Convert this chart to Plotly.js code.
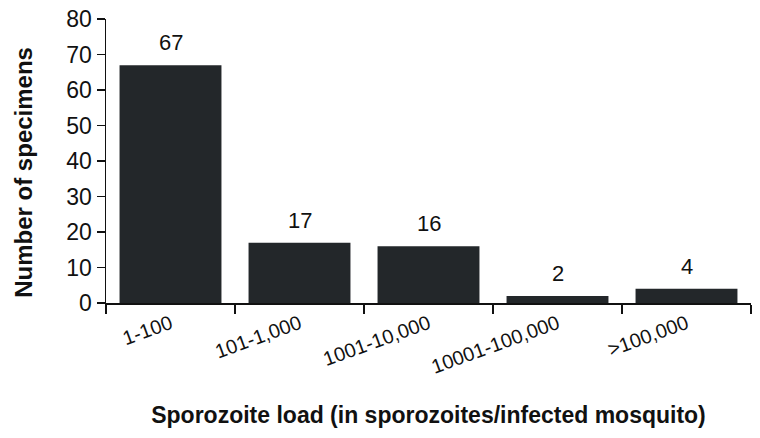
<!DOCTYPE html>
<html>
<head>
<meta charset="utf-8">
<script src="https://cdn.plot.ly/plotly-3.0.1.min.js"></script>
<style>body{margin:0;background:#fff}</style>
</head>
<body>
<div id="chartDiv" style="width:760px;height:438px"></div>
<script>
// sporozoite load classes and counts
var loadClasses = ['1-100', '101-1,000', '1001-10,000', '10001-100,000', '>100,000'];
var specimenCounts = [67, 17, 16, 2, 4];
var yTicks = [0, 10, 20, 30, 40, 50, 60, 70, 80];

var data = [{
    x: loadClasses,
    y: specimenCounts,
    type: 'bar',
    marker: {color: '#23272a', line: {width: 0}},
    hoverinfo: 'none'
}];

// count labels above bars, a bit higher than plotly's outside text
var annotations = loadClasses.map(function (c, i) {
    return {
        x: c,
        y: specimenCounts[i],
        xref: 'x',
        yref: 'y',
        text: String(specimenCounts[i]),
        showarrow: false,
        yanchor: 'bottom',
        yshift: 8,
        font: {size: 22, color: '#111'}
    };
});
// y title as an annotation so it can sit where the original does
annotations.push({
    xref: 'paper',
    yref: 'paper',
    x: -0.128,
    y: 0.46,
    xanchor: 'center',
    yanchor: 'middle',
    textangle: -90,
    text: '<b>Number of specimens</b>',
    showarrow: false,
    font: {size: 24, color: '#111'}
});

var layout = {
    width: 760,
    height: 438,
    margin: {l: 106, r: 9, t: 19, b: 135},
    paper_bgcolor: '#fff',
    plot_bgcolor: '#fff',
    bargap: 0.21,
    showlegend: false,
    font: {family: 'Liberation Sans, Arial', color: '#111'},
    annotations: annotations,
    xaxis: {
        type: 'category',
        showgrid: false,
        zeroline: false,
        showline: true,
        linecolor: '#111',
        linewidth: 1.5,
        ticks: 'outside',
        tickson: 'boundaries',
        ticklen: 9,
        tickwidth: 1.5,
        tickcolor: '#111',
        tickangle: -20,
        tickfont: {size: 20},
        title: {
            text: '<b>Sporozoite load (in sporozoites/infected mosquito)</b>',
            font: {size: 23},
            standoff: 30
        }
    },
    yaxis: {
        range: [0, 80],
        tickvals: yTicks,
        showgrid: false,
        zeroline: false,
        showline: true,
        linecolor: '#111',
        linewidth: 1.5,
        ticks: 'outside',
        ticklen: 8,
        tickwidth: 1.5,
        tickcolor: '#111',
        tickfont: {size: 23}
    }
};

Plotly.newPlot('chartDiv', data, layout, {displayModeBar: false, staticPlot: true});
</script>
</body>
</html>
